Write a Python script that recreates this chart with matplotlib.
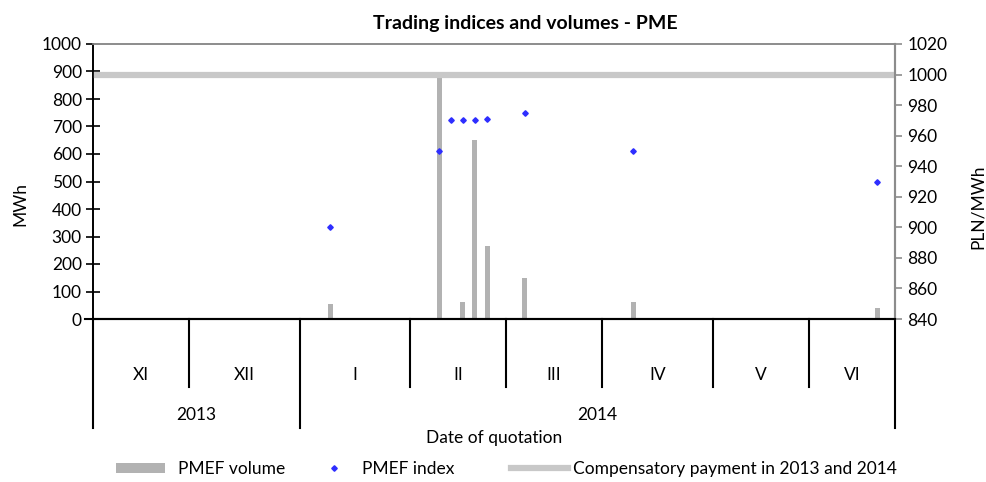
import matplotlib
matplotlib.use('Agg')

import numpy as np
import matplotlib.pyplot as plt
from matplotlib.lines import Line2D
from matplotlib.patches import Patch
from matplotlib.transforms import blended_transform_factory

plt.rcParams['font.family'] = ['Lato', 'DejaVu Sans']

# Months on the category axis and how many quotation days each one holds
months = ['XI', 'XII', 'I', 'II', 'III', 'IV', 'V', 'VI']
month_days = [20, 23, 23, 20, 20, 23, 20, 18]
years = ['2013', '2014']
months_per_year = [2, 6]

# PMEF volume (MWh) by quotation day
volume_day = [49.4, 72.1, 77.0, 79.5, 82.1, 89.9, 112.5, 163.3]
volume_mwh = [55, 880, 62, 651, 265, 149, 62, 40]

# PMEF index (PLN/MWh) by quotation day
index_day = [49.4, 72.1, 74.5, 77.0, 79.5, 82.1, 89.9, 112.5, 163.3]
index_pln = [900, 950, 970, 970, 970, 971, 975, 950, 930]

# Compensatory payment (PLN/MWh)
compensatory = 1000

W, H = 986, 482
fig = plt.figure(figsize=(W / 100, H / 100), dpi=100)
ax = fig.add_axes([93 / W, 1 - 319 / H, (895 - 93) / W, (319 - 44) / H])
ax2 = ax.twinx()

total_days = sum(month_days)
edges = np.concatenate([[0], np.cumsum(month_days)])

bar_color = '#b2b2b2'
dot_color = '#2e2eff'
comp_color = '#c8c8c8'

# Volume bars on the left axis
ax.bar(volume_day, volume_mwh, width=1.1, color=bar_color, zorder=2)
ax.set_xlim(0, total_days)
ax.set_ylim(0, 1000)
ax.set_yticks(np.arange(0, 1001, 100))
ax.set_xticks([])
ax.set_ylabel('MWh', fontsize=12.5)
ax.yaxis.set_label_coords(-0.081, 0.42)
ax.tick_params(axis='y', direction='inout', length=10, width=1.2, labelsize=12.5, pad=3)

# Index points and compensatory line on the right axis
ax2.plot([0, total_days], [compensatory, compensatory], color=comp_color, lw=4.5,
         solid_capstyle='butt', zorder=1)
ax2.plot(index_day, index_pln, linestyle='none', marker='D', markersize=2.8,
         color=dot_color, zorder=3)
ax2.set_ylim(840, 1020)
ax2.set_yticks(np.arange(840, 1021, 20))
ax2.set_ylabel('PLN/MWh', fontsize=12.5)
ax2.yaxis.set_label_coords(1.093, 0.407)
ax2.tick_params(axis='y', direction='out', length=5, width=1.2, color='#8c8c8c',
                labelsize=12.5, pad=4)

for a in (ax, ax2):
    a.spines['left'].set_color('black')
    a.spines['left'].set_linewidth(1.2)
    a.spines['bottom'].set_color('black')
    a.spines['bottom'].set_linewidth(1.5)
    a.spines['right'].set_color('#8c8c8c')
    a.spines['right'].set_linewidth(1.5)
    a.spines['top'].set_color('#8c8c8c')
    a.spines['top'].set_linewidth(1.2)

# Multi-level category labels under the axis
trans = blended_transform_factory(ax.transData, fig.transFigure)
y_axis = 1 - 319 / H
y_month = 1 - 387 / H
y_year = 1 - 428 / H

# small stub of the category axis left of the value axis
ax.add_line(Line2D([-1.7, 0], [y_axis, y_axis], transform=trans, color='black',
                   lw=1.5, clip_on=False))

year_edges = [edges[0]]
k = 0
for n in months_per_year:
    k += n
    year_edges.append(edges[k])

for e in edges:
    bottom = y_year if e in year_edges else y_month
    ax.add_line(Line2D([e, e], [y_axis, bottom], transform=trans, color='black',
                       lw=1.5, clip_on=False))

for i, m in enumerate(months):
    ax.text((edges[i] + edges[i + 1]) / 2, 1 - 375 / H, m, transform=trans,
            ha='center', va='center', fontsize=12.5)

for i, yr in enumerate(years):
    ax.text((year_edges[i] + year_edges[i + 1]) / 2, 1 - 415 / H, yr, transform=trans,
            ha='center', va='center', fontsize=12.5)

ax.text(total_days / 2, 1 - 438 / H, 'Date of quotation', transform=trans,
        ha='center', va='center', fontsize=12.5)

# Title
fig.text(525 / W, 1 - 23 / H, 'Trading indices and volumes - PME', ha='center',
         va='center', fontsize=14, fontweight='bold')

# Legend entries at the bottom, placed one by one
entries = [
    (Patch(facecolor=bar_color, edgecolor='none'), 'PMEF volume', 116, 2.8, 0.75),
    (Line2D([], [], linestyle='none', marker='D', markersize=2.8, color=dot_color),
     'PMEF index', 322, 1.4, 0.9),
    (Line2D([], [], color=comp_color, lw=4.5), 'Compensatory payment in 2013 and 2014',
     511, 3.3, 0.25),
]
for handle, label, x0, hl, pad in entries:
    leg = fig.legend([handle], [label], loc='center left',
                     bbox_to_anchor=(x0 / W, 1 - 469 / H), frameon=False,
                     fontsize=12.5, handlelength=hl, handleheight=0.5,
                     handletextpad=pad, borderpad=0, borderaxespad=0)

plt.savefig('out.png', dpi=100)
